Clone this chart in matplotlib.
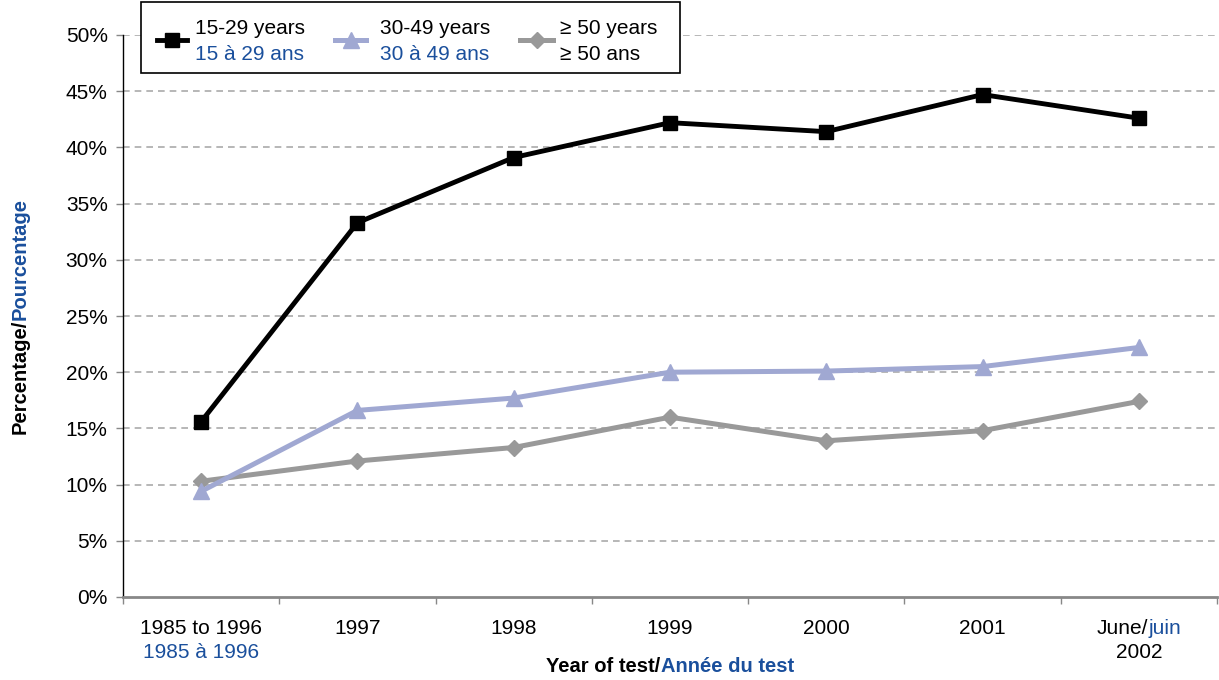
import matplotlib
matplotlib.use("Agg")
import matplotlib.pyplot as plt
from matplotlib.transforms import IdentityTransform
from matplotlib.lines import Line2D
from matplotlib.patches import Rectangle
import numpy as np

plt.rcParams['font.family'] = ['Liberation Sans', 'DejaVu Sans']

categories_en = ["1985 to 1996", "1997", "1998", "1999", "2000", "2001", "June/"]
categories_fr = ["1985 à 1996", "", "", "", "", "", "2002"]
age_15_29 = [15.6, 33.3, 39.1, 42.2, 41.4, 44.7, 42.6]
age_30_49 = [9.4, 16.6, 17.7, 20.0, 20.1, 20.5, 22.2]
age_50_plus = [10.3, 12.1, 13.3, 16.0, 13.9, 14.8, 17.4]
y_ticks = [0, 5, 10, 15, 20, 25, 30, 35, 40, 45, 50]

BLUE = '#1A4F9C'
C_BLACK = '#000000'
C_LAV = '#A0A8D2'
C_GRAY = '#999999'
FS = 15

W, H = 1219, 680
fig = plt.figure(figsize=(W / 100, H / 100), dpi=100)
ax = fig.add_axes([123 / W, 1 - 597 / H, (1217 - 123) / W, (597 - 35) / H])

x = np.arange(len(age_15_29))
ax.plot(x, age_50_plus, color=C_GRAY, lw=3.6, marker='D', ms=8.5, zorder=3)
ax.plot(x, age_30_49, color=C_LAV, lw=3.6, marker='^', ms=11, zorder=4)
ax.plot(x, age_15_29, color=C_BLACK, lw=3.5, marker='s', ms=10, zorder=5)

ax.set_xlim(-0.5, len(x) - 0.5)
ax.set_ylim(0, 50)
ax.set_yticks(y_ticks)
ax.set_yticklabels([f"{v}%" for v in y_ticks], fontsize=FS)
for v in y_ticks[1:]:
    ax.axhline(v, color='#AAAAAA', lw=1.2, ls=(0, (4, 3)), zorder=1)

ax.spines['top'].set_visible(False)
ax.spines['right'].set_visible(False)
ax.spines['left'].set_color('black')
ax.spines['left'].set_linewidth(1.0)
ax.spines['bottom'].set_color('#888888')
ax.spines['bottom'].set_linewidth(2.0)
ax.tick_params(axis='y', direction='out', length=5, width=1, color='#888888', pad=6)
ax.set_xticks(x)
ax.set_xticklabels([])
ax.tick_params(axis='x', which='major', length=0)
ax.set_xticks(np.arange(-0.5, len(x) + 0.5, 1.0), minor=True)
ax.tick_params(axis='x', which='minor', direction='out', length=5, width=1, color='#888888')

fig.canvas.draw()
renderer = fig.canvas.get_renderer()


def width_of(s, **kw):
    t = fig.text(0, 0, s, **kw)
    w = t.get_window_extent(renderer).width
    t.remove()
    return w


def multicolor(parts, cx, cy, rotation=0, **kw):
    """Draw a string made of differently colored pieces, centered at (cx, cy) in pixels."""
    widths = [width_of(s, **kw) for s, _ in parts]
    total = sum(widths)
    pos = -total / 2
    for (s, c), w in zip(parts, widths):
        if rotation == 90:
            fig.text(cx, cy + pos, s, color=c, rotation=90, ha='left', va='center',
                     transform=IdentityTransform(), rotation_mode='anchor', **kw)
        else:
            fig.text(cx + pos, cy, s, color=c, ha='left', va='center',
                     transform=IdentityTransform(), **kw)
        pos += w


# Category labels (two lines: English / French)
for i, (en, fr) in enumerate(zip(categories_en, categories_fr)):
    px = ax.transData.transform((i, 0))[0]
    if en.endswith("/"):
        multicolor([(en, 'black'), ("juin", BLUE)], px, H - 628, fontsize=FS)
        fig.text(px, H - 653, fr, color='black', ha='center', va='center',
                 transform=IdentityTransform(), fontsize=FS)
    else:
        fig.text(px, H - 628, en, color='black', ha='center', va='center',
                 transform=IdentityTransform(), fontsize=FS)
        if fr:
            fig.text(px, H - 653, fr, color=BLUE, ha='center', va='center',
                     transform=IdentityTransform(), fontsize=FS)

# Axis titles
multicolor([("Year of test/", 'black'), ("Année du test", BLUE)], 670, H - 666,
           fontsize=14.5, fontweight='bold')
multicolor([("Percentage/", 'black'), ("Pourcentage", BLUE)], 20, H - 316,
           rotation=90, fontsize=14.5, fontweight='bold')

# Legend box
fig.add_artist(Rectangle((141, H - 73), 680 - 141, 71, transform=IdentityTransform(),
                         facecolor='white', edgecolor='black', lw=1.2, zorder=10))
legend_items = [
    (C_BLACK, 's', 10, 3.5, 157, 187, 195, "15-29 years", "15 à 29 ans", BLUE),
    (C_LAV, '^', 11, 3.6, 335, 366, 380, "30-49 years", "30 à 49 ans", BLUE),
    (C_GRAY, 'D', 8.5, 3.6, 520, 553, 560, "\u2265 50 years", "\u2265 50 ans", 'black'),
]
for col, mk, ms, lw, x0, x1, tx, l1, l2, c2 in legend_items:
    fig.add_artist(Line2D([x0, x1], [H - 40, H - 40], color=col, lw=lw,
                          transform=IdentityTransform(), zorder=11))
    fig.add_artist(Line2D([(x0 + x1) / 2], [H - 40], color=col, marker=mk, ms=ms,
                          transform=IdentityTransform(), zorder=11))
    fig.text(tx, H - 28, l1, color='black', fontsize=FS, ha='left', va='center',
             transform=IdentityTransform(), zorder=12)
    fig.text(tx, H - 54, l2, color=c2, fontsize=FS, ha='left', va='center',
             transform=IdentityTransform(), zorder=12)

fig.savefig("out.png", dpi=100)
